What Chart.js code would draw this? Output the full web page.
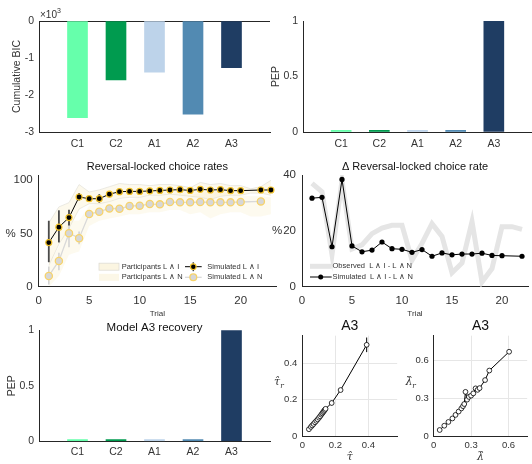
<!DOCTYPE html>
<html><head><meta charset="utf-8">
<script src="https://cdn.jsdelivr.net/npm/chart.js@4.4.1/dist/chart.umd.min.js"></script>
<style>
html,body{margin:0;padding:0;background:#fff;}
#wrap{position:relative;width:532px;height:464px;overflow:hidden;background:#fff;}
canvas{position:absolute;}
</style></head><body><div id="wrap">
<canvas id="c1" style="left:0px;top:0px" width="272" height="152"></canvas>
<canvas id="c2" style="left:265px;top:0px" width="267" height="152"></canvas>
<canvas id="c3" style="left:0px;top:150px" width="282" height="172"></canvas>
<canvas id="c4" style="left:270px;top:150px" width="262" height="172"></canvas>
<canvas id="c5" style="left:0px;top:310px" width="272" height="154"></canvas>
<canvas id="c6" style="left:270px;top:310px" width="132" height="154"></canvas>
<canvas id="c7" style="left:402px;top:310px" width="130" height="154"></canvas>
</div>
<script>
// ---------------- DATA ----------------
const models = ['C1', 'C2', 'A1', 'A2', 'A3'];
const bicValues = [-2.61, -1.59, -1.38, -2.52, -1.26];      // ×10^3
const pepValues = [0.015, 0.015, 0.015, 0.015, 1];
const recoveryPep = [0.015, 0.015, 0.015, 0.015, 1];

const trialsLI = [1,2,3,4,5,6,7,8,9,10,11,12,13,14,15,16,17,18,19,20,22,23];
const simLI = [41.5,56,65,84.3,82.7,82.7,87,89.3,89.6,89.6,90,90.5,90.9,91.2,90.5,91.5,90.9,91.2,90.3,90.3,90.9,90.9];
const simLIlo = [23,41.6,57.5,81,81.5,79,85.8,88.1,88.4,88.4,88.8,89.3,89.7,90,89.3,90.3,89.7,90,89.1,89.1,89.7,89.7];
const simLIhi = [62,71.8,72.4,88,84,87,88.2,90.5,90.8,90.8,91.2,91.7,92.1,92.4,91.7,92.7,92.1,92.4,91.5,91.5,92.1,92.1];

const trialsLN = [1,2,3,4,5,6,7,8,9,10,11,12,13,14,15,16,17,18,19,20,22];
const simLN = [10.1,24.2,50.3,45.6,68.3,70.5,73.6,73.3,75.8,76.2,77.7,77.4,79.6,79.3,79.3,79.6,79.3,79.3,79.3,79.6,80.2];
const simLNlo = [2,15.5,37,40,65,68.5,71.5,71.3,74,74.4,76,75.7,78,77.7,77.7,78,77.7,77.7,77.7,78,78.6];
const simLNhi = [19,32,62,52,71,72.5,75.7,75.3,77.6,78,79.4,79.1,81.2,80.9,80.9,81.2,80.9,80.9,80.9,81.2,81.8];

const trialsBand = [1,2,3,4,5,6,7,8,9,10,11,12,13,14,15,16,17,18,19,20,21,22,23];
const partLIhi = [60,75,79,96,89,91,94,97,96,96,95,96,96,95,93,98,96,97,95,95,92,94,100];
const partLIlo = [20,40,55,73,78,78,80,83,84,84,86,86,87,86,85,84,82,85,86,86,88,88,86];
const partLNhi = [22,37,62,62,76,78,80,82,82,84,85,86,87,88,86,88,90,90,87,86,85,85,84];
const partLNlo = [0,10,30,33,57,62,64,66,68,68,70,70,72,72,68,70,64,68,70,70,66,66,68];

const trialsObs = [1,2,3,4,5,6,7,8,9,10,11,12,13,14,15,16,17,18,19,20,21,22];
const obsDelta = [37,34,11.5,38,13.5,15,19,21,22,22,9.5,15.5,22.6,18,5,8.5,23.3,1.7,6.5,21.5,21.5,20.5];
const trialsSim = [1,2,3,4,5,6,7,8,9,10,11,12,13,14,15,16,17,18,19,20,22];
const simDelta = [31.7,32,14.3,38.4,14.6,12.5,13.1,16,13.6,13.4,12.3,13.3,10.9,12.1,11.4,11.7,11.7,12,11.2,11.1,10.9];

const tauEst = [0.040,0.052,0.060,0.068,0.077,0.085,0.093,0.101,0.108,0.115,0.121,0.126,0.131,0.136,0.141,0.178,0.232,0.390];
const tauRec = [0.037,0.050,0.058,0.066,0.075,0.083,0.091,0.100,0.108,0.117,0.124,0.131,0.137,0.143,0.149,0.181,0.252,0.500];
const tauErrLo = [null,null,null,null,null,null,null,null,null,null,null,null,null,null,null,0.168,null,0.46];
const tauErrHi = [null,null,null,null,null,null,null,null,null,null,null,null,null,null,null,0.194,null,0.54];

const lamEst = [0.048,0.085,0.118,0.150,0.175,0.200,0.222,0.235,0.245,0.255,0.268,0.282,0.300,0.318,0.336,0.352,0.368,0.412,0.446,0.605];
const lamRec = [0.048,0.082,0.112,0.140,0.168,0.195,0.220,0.238,0.255,0.352,0.290,0.312,0.322,0.340,0.380,0.368,0.382,0.446,0.522,0.672];

// ---------------- STYLE ----------------
const modelColors = ['#66ffab', '#009b4f', '#bdd3ea', '#528ab2', '#1f3d63'];
const AX = '#262626';
const TXT = '#333333';
const FONT = "'Liberation Sans', Arial, sans-serif";
Chart.defaults.font.family = FONT;
Chart.defaults.color = TXT;
Chart.defaults.animation = false;

const fixed = vals => s => { s.ticks = vals.map(v => ({ value: v })); };
const xy = (xs, ys) => xs.map((x, i) => ({ x: x, y: ys[i] }));

function textPlugin(items) {
  return {
    id: 'txt',
    afterDraw(chart) {
      const ctx = chart.ctx, a = chart.chartArea;
      ctx.save();
      items.forEach(p => {
        ctx.font = p.font;
        ctx.fillStyle = p.color || TXT;
        ctx.textAlign = p.align || 'center';
        ctx.textBaseline = p.baseline || 'middle';
        const x = a.left + p.dx;
        const y = (p.fromTop ? a.top : (a.top + a.bottom) / 2) + p.dy;
        ctx.fillText(p.text, x, y);
      });
      ctx.restore();
    }
  };
}

function errPlugin(sets) {
  return {
    id: 'err',
    beforeDatasetDraw(chart, args) {
      const ctx = chart.ctx, xs = chart.scales.x, ys = chart.scales.y;
      sets.filter(s => s.index === args.index).forEach(s => {
        ctx.save();
        ctx.strokeStyle = s.color; ctx.lineWidth = s.width;
        s.xs.forEach((t, i) => {
          if (s.lo[i] == null) return;
          const px = xs.getPixelForValue(t);
          ctx.beginPath();
          ctx.moveTo(px, ys.getPixelForValue(s.lo[i]));
          ctx.lineTo(px, ys.getPixelForValue(s.hi[i]));
          ctx.stroke();
        });
        ctx.restore();
      });
    }
  };
}

function barPanel(id, values, cfg) {
  return new Chart(document.getElementById(id), {
    type: 'bar',
    data: { datasets: [{ data: values.map((v, i) => ({ x: i + 1, y: v })), backgroundColor: modelColors, barThickness: 20, borderWidth: 0 }] },
    options: {
      responsive: false, animation: false,
      layout: { padding: cfg.padding },
      plugins: { legend: { display: false }, tooltip: { enabled: false }, title: cfg.title || { display: false } },
      scales: {
        x: {
          type: 'linear', min: 0, max: 6, offset: false, z: 1,
          afterBuildTicks: fixed([1, 2, 3, 4, 5]),
          ticks: { callback: v => models[v - 1], font: { size: 10.5 }, padding: cfg.xpad, color: TXT },
          grid: { display: false, drawTicks: false, offset: false },
          border: { color: AX, width: 1 },
          afterFit: s => { s.height = cfg.xh; }
        },
        y: {
          min: cfg.ymin, max: cfg.ymax, z: 1,
          afterBuildTicks: fixed(cfg.yticks),
          ticks: { callback: v => String(v), font: { size: 10.5 }, padding: 5, color: TXT },
          grid: { drawTicks: false, color: c => (cfg.zeroLine && c.tick && c.tick.value === 0) ? AX : 'rgba(0,0,0,0)' },
          border: { color: AX, width: 1 },
          title: { display: true, text: cfg.ytitle, font: { size: 10.5 }, color: TXT, padding: { top: cfg.ytpad, bottom: 0 } },
          afterFit: s => { s.width = cfg.yw; }
        }
      }
    },
    plugins: cfg.plugins || []
  });
}

// Panel 1: Cumulative BIC
barPanel('c1', bicValues, {
  padding: { top: 21, right: 2, left: 0, bottom: 0 }, xh: 20, yw: 39, xpad: 5.5,
  ymin: -3, ymax: 0, yticks: [-3, -2, -1, 0], ytitle: 'Cumulative BIC', ytpad: 11, zeroLine: true,
  plugins: [textPlugin([
    { text: '×10', font: '10px ' + FONT, align: 'left', baseline: 'alphabetic', dx: 1, dy: -3, fromTop: true },
    { text: '3', font: '7px ' + FONT, align: 'left', baseline: 'alphabetic', dx: 18, dy: -8, fromTop: true }
  ])]
});

// Panel 2: PEP
barPanel('c2', pepValues, {
  padding: { top: 21, right: 0, left: 0, bottom: 0 }, xh: 20, yw: 38, xpad: 5.5,
  ymin: 0, ymax: 1, yticks: [0, 0.5, 1], ytitle: 'PEP', ytpad: 5, zeroLine: false
});

// Panel 5: Model A3 recovery
barPanel('c5', recoveryPep, {
  padding: { top: 0, right: 2, left: 0, bottom: 0 }, xh: 22.7, yw: 39, xpad: 4.7,
  ymin: 0, ymax: 1, yticks: [0, 0.5, 1], ytitle: 'PEP', ytpad: 6, zeroLine: false,
  title: { display: true, text: 'Model A3 recovery', fullSize: false, color: '#111', font: { size: 11.5, weight: 'normal' }, padding: { top: 10.9, bottom: -4.4 } }
});

// Panel 3: Reversal-locked choice rates
const bandLI = 'rgba(246,228,170,0.22)';
const bandLN = 'rgba(248,232,180,0.22)';
const gold = '#f0c12a';
const goldLight = '#f7d36a';
new Chart(document.getElementById('c3'), {
  type: 'scatter',
  data: {
    datasets: [
      { label: 'Simulated L ∧ I', data: xy(trialsLI, simLI), showLine: true, borderColor: '#000', borderWidth: 1, pointRadius: 3, pointBackgroundColor: '#000', pointBorderColor: gold, pointBorderWidth: 1.2 },
      { label: 'Simulated L ∧ N', data: xy(trialsLN, simLN), showLine: true, borderColor: '#d9d9d9', borderWidth: 1.3, pointRadius: 3.6, pointBackgroundColor: '#d7d7d7', pointBorderColor: goldLight, pointBorderWidth: 1.3 },
      { label: 'Participants L ∧ I', data: xy(trialsBand, partLIhi), showLine: true, borderColor: '#e6e4dd', borderWidth: 0.8, pointRadius: 0, fill: '+1', backgroundColor: bandLI },
      { label: 'Participants L ∧ I lo', data: xy(trialsBand, partLIlo), showLine: true, borderColor: '#e6e4dd', borderWidth: 0.8, pointRadius: 0 },
      { label: 'Participants L ∧ N', data: xy(trialsBand, partLNhi), showLine: true, borderWidth: 0, borderColor: 'rgba(0,0,0,0)', pointRadius: 0, fill: '+1', backgroundColor: bandLN },
      { label: 'Participants L ∧ N lo', data: xy(trialsBand, partLNlo), showLine: true, borderWidth: 0, borderColor: 'rgba(0,0,0,0)', pointRadius: 0 }
    ]
  },
  options: {
    responsive: false, animation: false,
    layout: { padding: { top: 0, right: 6, left: 0, bottom: 0 } },
    plugins: {
      legend: { display: false }, tooltip: { enabled: false },
      title: { display: true, text: 'Reversal-locked choice rates', fullSize: false, color: '#111', font: { size: 11, weight: 'normal' }, padding: { top: 10.1, bottom: 1.7 } }
    },
    scales: {
      x: {
        type: 'linear', min: 0, max: 23.5,
        afterBuildTicks: fixed([0, 5, 10, 15, 20]),
        ticks: { font: { size: 11.5 }, padding: 7.5, color: TXT },
        grid: { display: false, drawTicks: false },
        border: { color: AX },
        title: { display: true, text: 'Trial', font: { size: 8 }, color: TXT, padding: { top: 0, bottom: 3.2 } },
        afterFit: s => { s.height = 35.3; }
      },
      y: {
        min: 0, max: 105,
        afterBuildTicks: fixed([0, 50, 100]),
        ticks: { font: { size: 11.5 }, padding: 6, color: TXT },
        grid: { display: false, drawTicks: false },
        border: { color: AX },
        afterFit: s => { s.width = 38.7; }
      }
    }
  },
  plugins: [
    errPlugin([
      { index: 0, xs: trialsLI, lo: simLIlo, hi: simLIhi, color: '#4a4a4a', width: 1.8 },
      { index: 1, xs: trialsLN, lo: simLNlo, hi: simLNhi, color: '#d4d4d4', width: 1.6 }
    ]),
    textPlugin([{ text: '%', font: '11.5px ' + FONT, dx: -28, dy: 3 }]),
    {
      id: 'legend3',
      afterDraw(chart) {
        const ctx = chart.ctx;
        const r1 = 116.7, r2 = 127.3;
        ctx.save();
        ctx.fillStyle = 'rgba(250,242,218,0.8)'; ctx.fillRect(99, r1 - 3.5, 20, 7);
        ctx.strokeStyle = '#dedcd4'; ctx.lineWidth = 0.8; ctx.strokeRect(99, r1 - 3.5, 20, 7);
        ctx.fillStyle = 'rgba(252,246,228,0.9)'; ctx.fillRect(99, r2 - 3.5, 20, 7);
        // simulated L∧I
        ctx.strokeStyle = '#000'; ctx.lineWidth = 1;
        ctx.beginPath(); ctx.moveTo(185, r1); ctx.lineTo(201.7, r1); ctx.stroke();
        ctx.strokeStyle = '#4a4a4a'; ctx.lineWidth = 1.5;
        ctx.beginPath(); ctx.moveTo(193.3, r1 - 4.5); ctx.lineTo(193.3, r1 + 4.5); ctx.stroke();
        ctx.beginPath(); ctx.arc(193.3, r1, 2.8, 0, Math.PI * 2); ctx.fillStyle = '#000'; ctx.fill();
        ctx.strokeStyle = gold; ctx.lineWidth = 1.2; ctx.stroke();
        // simulated L∧N
        ctx.strokeStyle = '#d9d9d9'; ctx.lineWidth = 1.3;
        ctx.beginPath(); ctx.moveTo(185, r2); ctx.lineTo(201.7, r2); ctx.stroke();
        ctx.beginPath(); ctx.arc(193.3, r2, 3.4, 0, Math.PI * 2); ctx.fillStyle = '#d7d7d7'; ctx.fill();
        ctx.strokeStyle = goldLight; ctx.lineWidth = 1.3; ctx.stroke();
        ctx.fillStyle = TXT; ctx.font = '7.5px ' + FONT; ctx.textAlign = 'left'; ctx.textBaseline = 'middle';
        ctx.fillText('Participants L ∧ I', 121.7, r1);
        ctx.fillText('Participants L ∧ N', 121.7, r2);
        ctx.fillText('Simulated L ∧ I', 207.3, r1);
        ctx.fillText('Simulated L ∧ N', 207.3, r2);
        ctx.restore();
      }
    }
  ]
});

// Panel 4: Δ Reversal-locked choice rate
new Chart(document.getElementById('c4'), {
  type: 'scatter',
  data: {
    datasets: [
      { label: 'Simulated L ∧ I - L ∧ N', data: xy(trialsSim, simDelta), showLine: true, borderColor: '#000', borderWidth: 1, pointRadius: 2.6, pointBackgroundColor: '#000', pointBorderColor: '#000', pointBorderWidth: 0 },
      { label: 'Observed L ∧ I - L ∧ N', data: xy(trialsObs, obsDelta), showLine: true, borderColor: '#e5e5e5', borderWidth: 5, pointRadius: 0 }
    ]
  },
  options: {
    responsive: false, animation: false,
    layout: { padding: { top: 0, right: 2, left: 0, bottom: 0 } },
    plugins: {
      legend: { display: false }, tooltip: { enabled: false },
      title: { display: true, text: 'Δ Reversal-locked choice rate', fullSize: false, color: '#111', font: { size: 11, weight: 'normal' }, padding: { top: 10.1, bottom: 1.7 } }
    },
    scales: {
      x: {
        type: 'linear', min: 0, max: 22.6,
        afterBuildTicks: fixed([0, 5, 10, 15, 20]),
        ticks: { font: { size: 11.5 }, padding: 7.5, color: TXT },
        grid: { display: false, drawTicks: false },
        border: { color: AX },
        title: { display: true, text: 'Trial', font: { size: 8 }, color: TXT, padding: { top: 0, bottom: 3.2 } },
        afterFit: s => { s.height = 35.3; }
      },
      y: {
        min: 0, max: 40,
        afterBuildTicks: fixed([0, 20, 40]),
        ticks: { font: { size: 11.5 }, padding: 6, color: TXT },
        grid: { display: false, drawTicks: false },
        border: { color: AX },
        afterFit: s => { s.width = 32; }
      }
    }
  },
  plugins: [
    textPlugin([{ text: '%', font: '11.5px ' + FONT, dx: -25, dy: 0 }]),
    {
      id: 'legend4',
      afterDraw(chart) {
        const ctx = chart.ctx;
        const r1 = 116.3, r2 = 127;
        ctx.save();
        ctx.strokeStyle = '#e5e5e5'; ctx.lineWidth = 5;
        ctx.beginPath(); ctx.moveTo(40, r1); ctx.lineTo(61.7, r1); ctx.stroke();
        ctx.strokeStyle = '#000'; ctx.lineWidth = 1;
        ctx.beginPath(); ctx.moveTo(40, r2); ctx.lineTo(61.7, r2); ctx.stroke();
        ctx.beginPath(); ctx.arc(50.7, r2, 2.5, 0, Math.PI * 2); ctx.fillStyle = '#000'; ctx.fill();
        ctx.fillStyle = TXT; ctx.font = '7.5px ' + FONT; ctx.textAlign = 'left'; ctx.textBaseline = 'middle';
        ctx.fillText('Observed  L ∧ I - L ∧ N', 62.5, r1);
        ctx.fillText('Simulated  L ∧ I - L ∧ N', 62.5, r2);
        ctx.restore();
      }
    }
  ]
});

// Panels 6 & 7: parameter recovery
function recoveryPanel(id, xs, ys, cfg) {
  const grid = { drawTicks: false, color: c => (c.tick && c.tick.value !== 0) ? '#e6e6e6' : 'rgba(0,0,0,0)' };
  return new Chart(document.getElementById(id), {
    type: 'scatter',
    data: { datasets: [{ data: xy(xs, ys), showLine: true, borderColor: '#000', borderWidth: 1, pointRadius: 2.4, pointBackgroundColor: '#fff', pointBorderColor: '#000', pointBorderWidth: 0.8 }] },
    options: {
      responsive: false, animation: false,
      layout: { padding: { top: 0, right: cfg.padR, left: 0, bottom: 0 } },
      plugins: {
        legend: { display: false }, tooltip: { enabled: false },
        title: { display: true, text: 'A3', fullSize: false, color: '#111', font: { size: 14, weight: 'normal' }, padding: { top: 7.6, bottom: 1.3 } }
      },
      scales: {
        x: {
          type: 'linear', min: 0, max: cfg.xmax,
          afterBuildTicks: fixed(cfg.ticks),
          ticks: { callback: v => String(v), font: { size: 9.5 }, padding: 3.5, color: TXT },
          grid: grid, border: { color: AX },
          title: { display: true, text: cfg.xlabel, font: { family: "'DejaVu Serif', serif", style: 'italic', size: 11 }, color: TXT, padding: { top: 0, bottom: 0.7 } },
          afterFit: s => { s.height = 28; }
        },
        y: {
          min: 0, max: cfg.ymax,
          afterBuildTicks: fixed(cfg.ticks),
          ticks: { callback: v => String(v), font: { size: 9.5 }, padding: 5, color: TXT },
          grid: grid, border: { color: AX },
          afterFit: s => { s.width = cfg.yw; }
        }
      }
    },
    plugins: [
      errPlugin(cfg.err || []),
      textPlugin([
        { text: cfg.ylabel, font: "italic 11px 'DejaVu Serif', serif", dx: -cfg.yw + 7, dy: -4 },
        { text: 'r', font: "italic 7.5px 'DejaVu Serif', serif", dx: -cfg.yw + 12, dy: 0 }
      ])
    ]
  });
}

recoveryPanel('c6', tauEst, tauRec, {
  xmax: 0.575, ymax: 0.55, ticks: [0, 0.2, 0.4], yw: 32.3, padR: 0,
  xlabel: 'τ\u0302', ylabel: 'τ\u0302',
  err: [{ index: 0, xs: tauEst, lo: tauErrLo, hi: tauErrHi, color: '#000', width: 1 }]
});
recoveryPanel('c7', lamEst, lamRec, {
  xmax: 0.75, ymax: 0.8, ticks: [0, 0.3, 0.6], yw: 31.7, padR: 1,
  xlabel: 'λ\u0302', ylabel: 'λ\u0302'
});
</script>
</body></html>
